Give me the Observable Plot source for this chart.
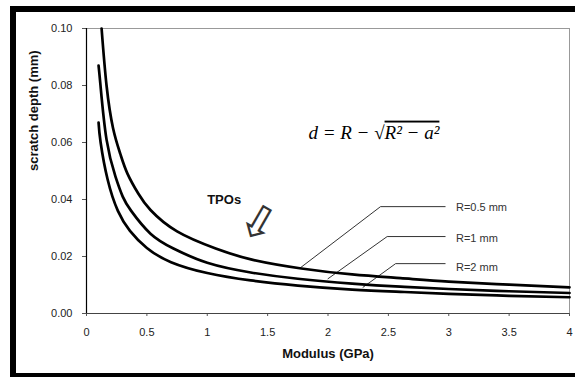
<!DOCTYPE html>
<html>
<head>
<meta charset="utf-8">
<script src="https://cdn.jsdelivr.net/npm/d3@7"></script>
<script src="https://cdn.jsdelivr.net/npm/@observablehq/plot@0.6"></script>
<style>
  html, body { margin: 0; padding: 0; background: #fff; overflow: hidden; width: 575px; height: 377px; }
  #frame { position: absolute; left: 10px; top: 6px; width: 600px; height: 361px; border: 6px solid #000; pointer-events: none; }
  #chart { position: absolute; left: 0; top: 0; }
</style>
</head>
<body>
<div id="chart"></div>
<div id="frame"></div>
<script>
// Series: Modulus (GPa) vs scratch depth (mm)
const seriesNames = ["R=0.5 mm", "R=1 mm", "R=2 mm"];
const modulusR05 = [0.125, 0.166, 0.22, 0.28, 0.34, 0.43, 0.53, 0.75, 1.07, 1.37, 1.78, 2.2, 2.6, 3.0, 3.5, 4.0];
const depthR05   = [0.100, 0.080, 0.065, 0.056, 0.049, 0.042, 0.0363, 0.0288, 0.0228, 0.0189, 0.0158, 0.0137, 0.0124, 0.0112, 0.0101, 0.0092];
const modulusR1  = [0.1, 0.116, 0.166, 0.24, 0.30, 0.37, 0.53, 0.72, 1.0, 1.36, 1.75, 2.2, 2.6, 3.0, 3.5, 4.0];
const depthR1    = [0.087, 0.080, 0.061, 0.048, 0.041, 0.036, 0.028, 0.0228, 0.0178, 0.0144, 0.0122, 0.0105, 0.0094, 0.0086, 0.0078, 0.0072];
const modulusR2  = [0.1, 0.117, 0.175, 0.26, 0.36, 0.5, 0.7, 1.0, 1.36, 1.75, 2.2, 2.6, 3.0, 3.5, 4.0];
const depthR2    = [0.067, 0.060, 0.047, 0.036, 0.029, 0.023, 0.018, 0.0142, 0.0116, 0.0098, 0.0084, 0.0076, 0.0069, 0.0062, 0.0057];

// Axis ticks
const xTicks = [0, 0.5, 1, 1.5, 2, 2.5, 3, 3.5, 4];
const yTicks = [0, 0.02, 0.04, 0.06, 0.08, 0.10];

// Annotation anchors (data units)
const leaderCurveX = [1.77, 2.0, 2.29];
const leaderCurveY = [0.016, 0.0122, 0.0092];
const leaderElbowX = [2.435, 2.49, 2.56];
const leaderLevelY = [0.0375, 0.027, 0.0175];
const leaderEndX   = [2.97, 2.97, 2.97];
const labelX       = [3.06, 3.06, 3.06];
const labelY       = [0.0372, 0.0264, 0.0163];

const curveRows = [];
[[modulusR05, depthR05], [modulusR1, depthR1], [modulusR2, depthR2]].forEach(([xs, ys], i) => {
  xs.forEach((x, j) => curveRows.push({series: seriesNames[i], x, y: ys[j]}));
});
const leaderRows = [];
seriesNames.forEach((s, i) => {
  leaderRows.push({series: s, x: leaderCurveX[i], y: leaderCurveY[i]});
  leaderRows.push({series: s, x: leaderElbowX[i], y: leaderLevelY[i]});
  leaderRows.push({series: s, x: leaderEndX[i], y: leaderLevelY[i]});
});
const labelRows = seriesNames.map((s, i) => ({text: s, x: labelX[i], y: labelY[i]}));

const equation = "d = R − √R² − a²";
const eqX = 2.38, eqY = 0.0635;
const tpoText = "TPOs";
const tpoX = 1.14, tpoY = 0.040;
const arrowX = 1.42, arrowY = 0.0315;

const svg = Plot.plot({
  width: 575,
  height: 377,
  marginLeft: 86,
  marginRight: 6,
  marginTop: 28,
  marginBottom: 64,
  x: {domain: [0, 4]},
  y: {domain: [0, 0.1]},
  style: {fontFamily: "'Liberation Sans', Arial, sans-serif", fontSize: "11px", color: "#222", background: "transparent"},
  marks: [
    Plot.ruleY([0.1], {stroke: "#999", strokeWidth: 1}),
    Plot.ruleX([4], {stroke: "#999", strokeWidth: 1}),
    Plot.axisX({ticks: xTicks, tickFormat: d => String(d), tickSize: 3, tickPadding: 12, label: null, stroke: "#555"}),
    Plot.axisY({ticks: yTicks, tickFormat: d => d.toFixed(2), tickSize: 4, tickPadding: 10, label: null, stroke: "#555"}),
    Plot.ruleY([0], {stroke: "#444", strokeWidth: 1}),
    Plot.ruleX([0], {stroke: "#000", strokeWidth: 1.2}),
    Plot.line(leaderRows, {x: "x", y: "y", z: "series", stroke: "#333", strokeWidth: 1}),
    Plot.line(curveRows, {x: "x", y: "y", z: "series", stroke: "#000", strokeWidth: 2.7, curve: "natural"}),
    Plot.text(labelRows, {x: "x", y: "y", text: "text", textAnchor: "start", fill: "#333", fontSize: 11}),
    Plot.text([equation], {x: eqX, y: eqY, text: d => d, fontFamily: "'Liberation Serif', 'Times New Roman', serif", fontStyle: "italic", fontSize: 19, fill: "#000"}),
    Plot.text([tpoText], {x: tpoX, y: tpoY, text: d => d, fontWeight: "bold", fontSize: 13, fill: "#111"}),
    Plot.text(["⇩"], {x: arrowX, y: arrowY, text: d => d, rotate: 30, fontFamily: "'DejaVu Sans', sans-serif", fontSize: 46, fill: "#333"}),
    Plot.text(["scratch depth (mm)"], {frameAnchor: "left", dx: -53, rotate: -90, text: d => d, fontWeight: "bold", fontSize: 13, fill: "#111"}),
    Plot.text(["Modulus (GPa)"], {frameAnchor: "bottom", dy: 44, text: d => d, fontWeight: "bold", fontSize: 13, fill: "#111"})
  ]
});
document.getElementById("chart").appendChild(svg);

// Give the equation its square-root overline
d3.select(svg).selectAll("text").each(function() {
  if (this.textContent === equation) {
    const t = d3.select(this);
    t.text(null);
    t.append("tspan").text("d = R − √");
    t.append("tspan").style("text-decoration", "overline").text("R² − a²");
  }
});
</script>
</body>
</html>
